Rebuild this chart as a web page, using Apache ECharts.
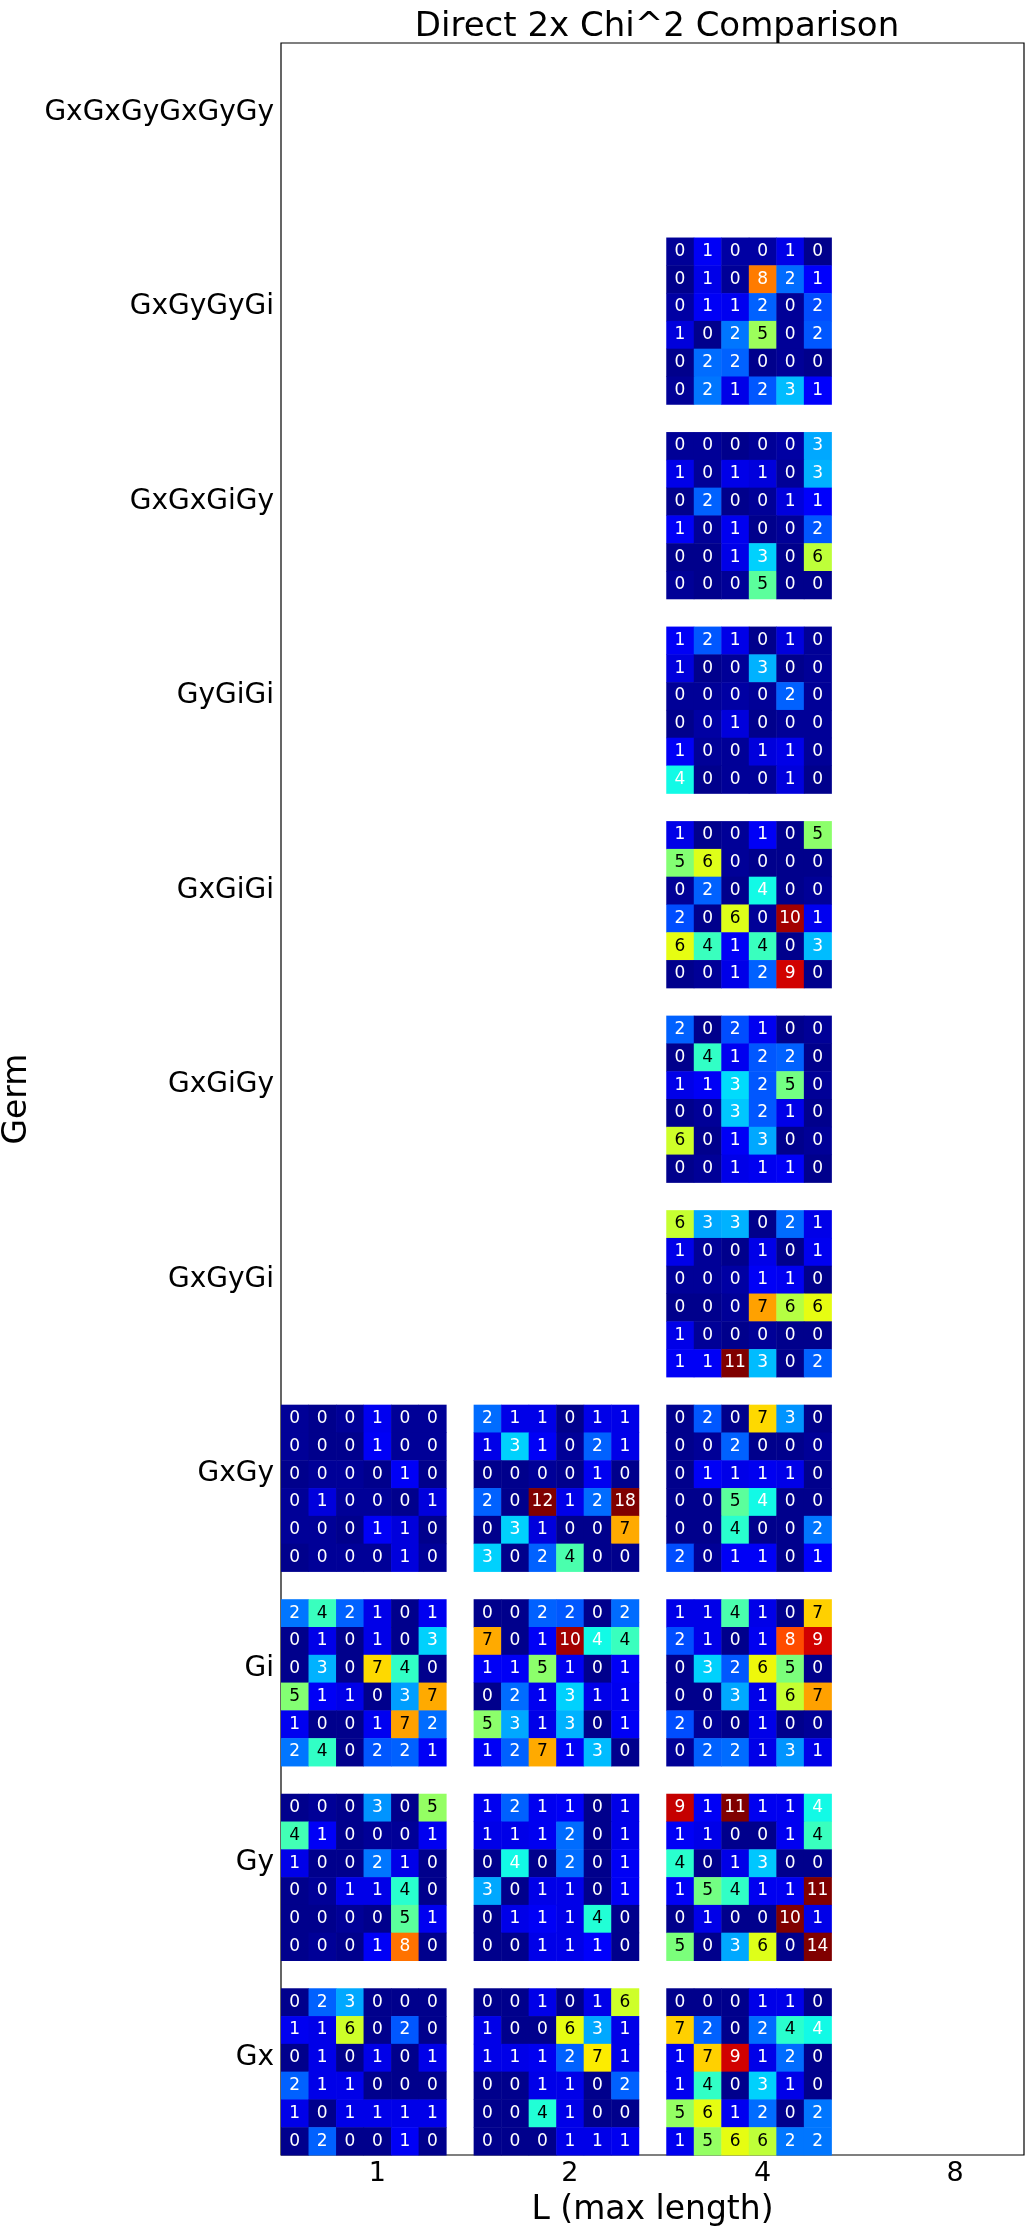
<!DOCTYPE html>
<html>
<head>
<meta charset="utf-8">
<title>Direct 2x Chi^2 Comparison</title>
<script src="https://cdn.jsdelivr.net/npm/echarts@6/dist/echarts.min.js"></script>
<style>
html, body { margin: 0; padding: 0; background: #fff; }
#main { width: 1033px; height: 2238px; }
</style>
</head>
<body>
<div id="main"></div>
<script>
// germs from bottom to top, max lengths left to right
var germs = ['Gx', 'Gy', 'Gi', 'GxGy', 'GxGyGi', 'GxGiGy', 'GxGiGi', 'GyGiGi', 'GxGxGiGy', 'GxGyGyGi', 'GxGxGyGxGyGy'];
var lengths = ['1', '2', '4', '8'];

// chi^2 boxes, rows listed top to bottom as they appear in each box
var Gx_L1 = [
	[0.1, 2.2, 2.9, 0.1, 0.1, 0.1],
	[1.0, 0.9, 6.0, 0.1, 2.1, 0.1],
	[0.1, 0.9, 0.1, 0.9, 0.1, 0.9],
	[2.2, 0.9, 0.9, 0.1, 0.1, 0.1],
	[0.9, 0.1, 0.9, 0.9, 0.9, 0.9],
	[0.1, 2.2, 0.1, 0.1, 1.1, 0.1]];
var Gx_L2 = [
	[0.1, 0.1, 0.9, 0.1, 0.9, 6.0],
	[0.9, 0.1, 0.1, 6.3, 2.9, 0.9],
	[0.9, 0.9, 1.0, 2.2, 6.6, 0.9],
	[0.1, 0.1, 0.9, 0.9, 0.1, 2.2],
	[0.1, 0.1, 3.9, 0.9, 0.1, 0.1],
	[0.1, 0.1, 0.1, 0.9, 0.9, 1.0]];
var Gx_L4 = [
	[0.1, 0.1, 0.1, 0.9, 0.9, 0.1],
	[6.9, 2.2, 0.1, 2.3, 4.0, 3.7],
	[1.0, 6.9, 9.3, 0.9, 2.3, 0.1],
	[1.0, 4.1, 0.1, 3.3, 0.9, 0.1],
	[5.3, 6.3, 1.0, 2.3, 0.1, 2.4],
	[1.0, 5.3, 6.3, 5.8, 2.4, 2.4]];
var Gy_L1 = [
	[0.1, 0.2, 0.1, 2.7, 0.1, 5.3],
	[4.3, 1.1, 0.1, 0.2, 0.2, 1.0],
	[0.9, 0.1, 0.1, 2.4, 0.9, 0.1],
	[0.1, 0.2, 0.9, 0.9, 4.0, 0.1],
	[0.1, 0.1, 0.2, 0.1, 4.6, 1.0],
	[0.1, 0.2, 0.1, 1.1, 7.9, 0.1]];
var Gy_L2 = [
	[1.0, 2.2, 1.0, 1.1, 0.1, 0.9],
	[0.9, 0.9, 1.0, 2.3, 0.1, 0.9],
	[0.1, 3.7, 0.1, 2.3, 0.1, 1.1],
	[2.9, 0.1, 0.9, 0.9, 0.1, 1.1],
	[0.1, 0.9, 1.1, 0.9, 3.9, 0.1],
	[0.1, 0.1, 0.9, 0.9, 1.2, 0.1]];
var Gy_L4 = [
	[9.4, 1.1, 11.0, 1.0, 1.0, 3.7],
	[1.1, 0.9, 0.1, 0.1, 1.0, 4.2],
	[4.0, 0.1, 0.9, 3.2, 0.1, 0.1],
	[1.1, 4.9, 4.1, 1.0, 1.0, 11.0],
	[0.1, 0.9, 0.1, 0.1, 10.2, 0.9],
	[5.0, 0.1, 2.9, 6.2, 0.1, 14.0]];
var Gi_L1 = [
	[2.4, 4.2, 2.2, 0.9, 0.1, 1.0],
	[0.1, 0.9, 0.1, 0.9, 0.1, 3.3],
	[0.1, 3.0, 0.1, 6.8, 4.1, 0.1],
	[5.1, 1.1, 0.9, 0.1, 2.8, 7.3],
	[1.0, 0.1, 0.1, 1.0, 7.4, 2.3],
	[2.4, 4.1, 0.1, 2.1, 2.2, 1.1]];
var Gi_L2 = [
	[0.1, 0.1, 2.2, 2.1, 0.1, 2.3],
	[7.3, 0.1, 1.1, 9.7, 3.7, 4.2],
	[1.1, 1.1, 5.2, 1.0, 0.1, 1.1],
	[0.1, 2.3, 1.0, 3.3, 0.9, 1.0],
	[5.2, 2.9, 0.9, 3.0, 0.1, 1.1],
	[1.1, 2.2, 7.3, 1.1, 3.1, 0.1]];
var Gi_L4 = [
	[0.9, 0.9, 4.4, 0.9, 0.1, 6.9],
	[2.0, 0.9, 0.1, 1.0, 8.3, 9.3],
	[0.1, 3.3, 2.1, 6.4, 5.0, 0.1],
	[0.1, 0.1, 2.9, 0.9, 5.9, 7.4],
	[2.0, 0.2, 0.1, 0.9, 0.1, 0.2],
	[0.2, 2.2, 2.3, 0.9, 2.7, 0.9]];
var GxGy_L1 = [
	[0.2, 0.1, 0.2, 1.0, 0.2, 0.2],
	[0.2, 0.1, 0.1, 1.1, 0.2, 0.2],
	[0.1, 0.2, 0.2, 0.1, 1.1, 0.1],
	[0.2, 0.8, 0.2, 0.2, 0.1, 0.8],
	[0.2, 0.2, 0.1, 1.1, 0.8, 0.1],
	[0.1, 0.2, 0.2, 0.2, 0.8, 0.2]];
var GxGy_L2 = [
	[2.3, 0.9, 0.9, 0.1, 0.9, 0.9],
	[0.9, 3.3, 1.1, 0.2, 2.2, 0.9],
	[0.1, 0.1, 0.2, 0.1, 1.0, 0.1],
	[2.2, 0.1, 12.0, 0.9, 2.3, 18.0],
	[0.1, 3.3, 0.8, 0.1, 0.1, 7.3],
	[3.3, 0.1, 2.2, 4.4, 0.1, 0.1]];
var GxGy_L4 = [
	[0.1, 2.1, 0.1, 6.8, 2.7, 0.1],
	[0.1, 0.2, 2.2, 0.1, 0.1, 0.2],
	[0.1, 1.1, 0.9, 1.0, 0.9, 0.1],
	[0.1, 0.1, 4.6, 3.7, 0.1, 0.1],
	[0.1, 0.1, 4.0, 0.1, 0.1, 2.4],
	[2.0, 0.2, 1.1, 1.1, 0.1, 1.2]];
var GxGyGi_L4 = [
	[5.9, 2.9, 3.0, 0.1, 2.3, 0.9],
	[0.9, 0.2, 0.1, 0.9, 0.1, 1.0],
	[0.2, 0.2, 0.3, 1.1, 1.0, 0.1],
	[0.1, 0.1, 0.2, 7.4, 5.7, 6.3],
	[0.9, 0.2, 0.1, 0.2, 0.1, 0.1],
	[1.1, 1.1, 11.0, 3.1, 0.1, 2.2]];
var GxGiGy_L4 = [
	[2.2, 0.1, 2.0, 1.0, 0.1, 0.2],
	[0.1, 4.1, 1.0, 2.1, 2.2, 0.1],
	[0.9, 1.1, 3.4, 2.1, 4.9, 0.2],
	[0.1, 0.2, 3.2, 2.1, 0.9, 0.1],
	[6.0, 0.1, 1.1, 2.9, 0.1, 0.2],
	[0.1, 0.2, 0.9, 1.0, 1.1, 0.1]];
var GxGiGi_L4 = [
	[0.9, 0.1, 0.2, 1.1, 0.1, 5.2],
	[5.1, 6.2, 0.2, 0.1, 0.1, 0.1],
	[0.2, 2.2, 0.1, 3.7, 0.1, 0.2],
	[2.0, 0.1, 6.2, 0.2, 9.7, 1.0],
	[6.3, 4.2, 1.1, 4.2, 0.1, 3.1],
	[0.1, 0.2, 0.9, 2.2, 9.3, 0.1]];
var GyGiGi_L4 = [
	[1.1, 2.1, 0.9, 0.1, 0.8, 0.2],
	[0.8, 0.1, 0.2, 3.0, 0.1, 0.2],
	[0.2, 0.2, 0.3, 0.2, 2.2, 0.2],
	[0.1, 0.3, 0.8, 0.1, 0.2, 0.2],
	[1.1, 0.2, 0.2, 0.8, 0.9, 0.2],
	[3.7, 0.1, 0.2, 0.2, 0.8, 0.1]];
var GxGxGiGy_L4 = [
	[0.2, 0.2, 0.1, 0.2, 0.3, 2.9],
	[0.9, 0.2, 0.9, 0.8, 0.2, 3.0],
	[0.1, 2.2, 0.1, 0.2, 0.8, 1.2],
	[1.1, 0.2, 1.0, 0.1, 0.2, 2.1],
	[0.1, 0.1, 0.9, 3.3, 0.1, 5.8],
	[0.2, 0.1, 0.2, 4.6, 0.1, 0.1]];
var GxGyGyGi_L4 = [
	[0.2, 1.1, 0.3, 0.3, 0.9, 0.1],
	[0.1, 0.9, 0.2, 7.8, 2.3, 1.2],
	[0.3, 1.1, 1.0, 2.2, 0.2, 2.0],
	[0.8, 0.1, 2.4, 5.4, 0.2, 2.1],
	[0.1, 2.3, 2.2, 0.1, 0.2, 0.1],
	[0.2, 2.4, 0.9, 2.1, 3.1, 1.2]];

// which box goes where: [germ, L, box]
var boxes = [
	['Gx', '1', Gx_L1], ['Gx', '2', Gx_L2], ['Gx', '4', Gx_L4],
	['Gy', '1', Gy_L1], ['Gy', '2', Gy_L2], ['Gy', '4', Gy_L4],
	['Gi', '1', Gi_L1], ['Gi', '2', Gi_L2], ['Gi', '4', Gi_L4],
	['GxGy', '1', GxGy_L1], ['GxGy', '2', GxGy_L2], ['GxGy', '4', GxGy_L4],
	['GxGyGi', '4', GxGyGi_L4],
	['GxGiGy', '4', GxGiGy_L4],
	['GxGiGi', '4', GxGiGi_L4],
	['GyGiGi', '4', GyGiGi_L4],
	['GxGxGiGy', '4', GxGxGiGy_L4],
	['GxGyGyGi', '4', GxGyGyGi_L4]
];

var N = 6;          // cells per box side
var STEP = N + 1;   // box plus one cell of spacing
var FONT = 'DejaVu Sans';

// matplotlib "jet" colour stops
function jetChannel(pts, t) {
	for (var k = 1; k < pts.length; k++) {
		if (t <= pts[k][0]) {
			var a = pts[k - 1], b = pts[k];
			return a[1] + (b[1] - a[1]) * (t - a[0]) / (b[0] - a[0]);
		}
	}
	return pts[pts.length - 1][1];
}
var jetStops = [];
for (var s = 0; s <= 32; s++) {
	var t = s / 32;
	var r = jetChannel([[0, 0], [0.35, 0], [0.66, 1], [0.89, 1], [1, 0.5]], t);
	var g = jetChannel([[0, 0], [0.125, 0], [0.375, 1], [0.64, 1], [0.91, 0], [1, 0]], t);
	var b = jetChannel([[0, 0.5], [0.11, 1], [0.34, 1], [0.65, 0], [1, 0]], t);
	jetStops.push('rgb(' + Math.round(r * 255) + ',' + Math.round(g * 255) + ',' + Math.round(b * 255) + ')');
}

// cell data: [left edge, bottom edge, value] in cell units
var cells = [];
boxes.forEach(function (bx) {
	var gi = germs.indexOf(bx[0]);
	var li = lengths.indexOf(bx[1]);
	bx[2].forEach(function (row, r) {
		row.forEach(function (v, c) {
			cells.push([li * STEP + c, gi * STEP + (N - 1 - r), v]);
		});
	});
});

var xTicks = lengths.map(function (d, i) { return i * STEP + STEP / 2; });
var yTicks = germs.map(function (d, i) { return i * STEP + STEP / 2; });

var myChart = echarts.init(document.getElementById('main'));

myChart.setOption({
	animation : false,
	backgroundColor : '#fff',
	title : {
		text : 'Direct 2x Chi^2 Comparison',
		left : 652,
		top : 5,
		textAlign : 'center',
		textStyle : { fontFamily : FONT, fontSize : 34, fontWeight : 'normal', color : '#000' }
	},
	grid : {
		left : 281,
		right : 9,
		top : 43,
		bottom : 83,
		outerBoundsMode : 'none',
		containLabel : false,
		show : true,
		borderColor : '#000',
		borderWidth : 1.2
	},
	xAxis : {
		type : 'value',
		min : 0,
		max : lengths.length * STEP - 1,
		axisLine : { show : false },
		axisTick : { show : false },
		splitLine : { show : false },
		axisLabel : {
			customValues : xTicks,
			formatter : function (v) {
				var k = xTicks.indexOf(v);
				return k < 0 ? '' : lengths[k];
			},
			fontFamily : FONT,
			fontSize : 27,
			color : '#000',
			margin : 5
		},
		name : 'L (max length)',
		nameLocation : 'middle',
		nameGap : 39,
		nameTextStyle : { fontFamily : FONT, fontSize : 33, color : '#000' }
	},
	yAxis : {
		type : 'value',
		min : 0,
		max : germs.length * STEP - 1,
		axisLine : { show : false },
		axisTick : { show : false },
		splitLine : { show : false },
		axisLabel : {
			customValues : yTicks,
			formatter : function (v) {
				var k = yTicks.indexOf(v);
				return k < 0 ? '' : germs[k];
			},
			fontFamily : FONT,
			fontSize : 28,
			color : '#000',
			margin : 7
		},
		name : 'Germ',
		nameLocation : 'middle',
		nameGap : 242,
		nameRotate : 90,
		nameTextStyle : { fontFamily : FONT, fontSize : 33, color : '#000' }
	},
	visualMap : {
		type : 'continuous',
		show : false,
		min : 0,
		max : 10,
		dimension : 2,
		seriesIndex : 0,
		inRange : { color : jetStops },
		outOfRange : { color : '#7f0000' }
	},
	series : [ {
		name : 'chi2',
		type : 'custom',
		data : cells,
		renderItem : function (params, api) {
			var x = api.value(0), y = api.value(1), v = api.value(2);
			var p1 = api.coord([x, y + 1]);
			var p2 = api.coord([x + 1, y]);
			var dark = v >= 3.8 && v < 7.7;
			return {
				type : 'group',
				children : [ {
					type : 'rect',
					shape : { x : p1[0], y : p1[1], width : p2[0] - p1[0] + 0.5, height : p2[1] - p1[1] + 0.5 },
					style : { fill : api.visual('color') }
				}, {
					type : 'text',
					x : (p1[0] + p2[0]) / 2,
					y : (p1[1] + p2[1]) / 2,
					style : {
						text : String(Math.round(v)),
						fill : dark ? '#000' : '#fff',
						font : '17px "' + FONT + '"',
						align : 'center',
						verticalAlign : 'middle'
					}
				} ]
			};
		}
	} ]
});
</script>
</body>
</html>
